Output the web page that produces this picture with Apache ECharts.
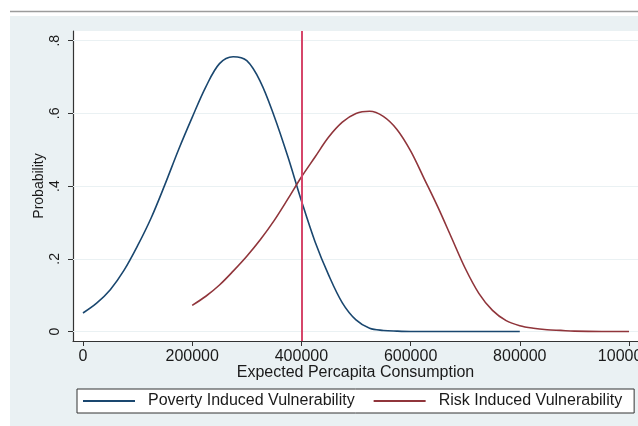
<!DOCTYPE html>
<html>
<head>
<meta charset="utf-8">
<script src="https://cdn.jsdelivr.net/npm/echarts@6/dist/echarts.min.js"></script>
<style>html,body{margin:0;padding:0;background:#fff}#c{width:638px;height:426px}</style>
</head>
<body>
<div id="c"></div>
<script>
// ---- data ----
const xTicks = [0, 200000, 400000, 600000, 800000, 1000000];
const yTicks = [0, 0.2, 0.4, 0.6, 0.8];
const yTickLabels = ['0', '.2', '.4', '.6', '.8'];
const cutoff = 400000;

const seriesNames = ['Poverty Induced Vulnerability', 'Risk Induced Vulnerability'];

const povertyX = [0, 25000, 50000, 75000, 100000, 125000, 150000, 175000, 200000, 225000, 250000, 275000, 300000, 325000, 350000, 375000, 400000, 425000, 450000, 475000, 500000, 525000, 550000, 575000, 600000, 700000, 800000];
const povertyY = [0.051, 0.078, 0.115, 0.168, 0.236, 0.313, 0.404, 0.500, 0.589, 0.673, 0.737, 0.756, 0.745, 0.687, 0.593, 0.482, 0.360, 0.247, 0.155, 0.079, 0.032, 0.009, 0.003, 0.001, 0, 0, 0];

const riskX = [200000, 225000, 250000, 275000, 300000, 325000, 350000, 375000, 400000, 425000, 450000, 475000, 500000, 525000, 550000, 575000, 600000, 625000, 650000, 675000, 700000, 725000, 750000, 775000, 800000, 825000, 850000, 875000, 900000, 950000, 1000000];
const riskY = [0.072, 0.097, 0.128, 0.166, 0.207, 0.253, 0.305, 0.364, 0.425, 0.480, 0.535, 0.576, 0.600, 0.606, 0.592, 0.556, 0.497, 0.420, 0.342, 0.258, 0.174, 0.105, 0.058, 0.030, 0.016, 0.009, 0.005, 0.003, 0.001, 0, 0];

const zip = (xs, ys) => xs.map((x, i) => [x, ys[i]]);

const FONT = '"Liberation Sans", Arial, sans-serif';
const TXT = '#1a1a1a';

const chart = echarts.init(document.getElementById('c'), null, {renderer: 'canvas'});
chart.setOption({
  animation: false,
  backgroundColor: '#ffffff',
  textStyle: {fontFamily: FONT},
  graphic: [
    {type: 'rect', z: -20, shape: {x: 10, y: 16, width: 628, height: 410}, style: {fill: '#eaf1f3'}},
    {type: 'rect', z: -19, shape: {x: 73, y: 31, width: 565, height: 310}, style: {fill: '#ffffff'}},
    {type: 'line', z: -18, shape: {x1: 10, y1: 11.5, x2: 638, y2: 11.5}, style: {stroke: '#9c9c9c', lineWidth: 1.5}}
  ],
  grid: {left: 73, right: 0, top: 31, bottom: 85, containLabel: false, outerBoundsMode: 'none'},
  xAxis: {
    type: 'value',
    min: -18300, max: 1016500,
    name: 'Expected Percapita Consumption',
    nameLocation: 'middle', nameGap: 24, nameMoveOverlap: false,
    nameTextStyle: {fontSize: 16, color: TXT, fontFamily: FONT},
    axisLine: {show: true, onZero: false, lineStyle: {color: '#333', width: 1.2}},
    axisTick: {show: true, customValues: xTicks, length: 5, lineStyle: {color: '#333'}},
    axisLabel: {customValues: xTicks, fontSize: 16, color: TXT, margin: 8, fontFamily: FONT, formatter: v => String(v), hideOverlap: false},
    splitLine: {show: false}
  },
  yAxis: {
    type: 'value',
    min: -0.0261, max: 0.8267,
    name: 'Probability',
    nameLocation: 'middle', nameGap: 27, nameRotate: 90, nameMoveOverlap: false,
    nameTextStyle: {fontSize: 14, color: TXT, fontFamily: FONT},
    axisLine: {show: true, onZero: false, lineStyle: {color: '#333', width: 1.2}},
    axisTick: {show: true, customValues: yTicks, length: 5, lineStyle: {color: '#333'}},
    axisLabel: {customValues: yTicks, rotate: 90, fontSize: 14, color: TXT, margin: 11, fontFamily: FONT,
      formatter: v => { const i = yTicks.findIndex(t => Math.abs(t - v) < 1e-9); return i >= 0 ? yTickLabels[i] : ''; }},
    splitLine: {show: false}
  },
  legend: {
    left: 77, top: 389,
    padding: [4, 12, 4, 6],
    backgroundColor: '#ffffff', borderColor: '#333', borderWidth: 1,
    itemWidth: 52, itemHeight: 2, itemGap: 19,
    icon: 'rect',
    textStyle: {fontSize: 16, color: TXT, fontFamily: FONT, padding: [0, 0, 0, 8]},
    data: seriesNames
  },
  series: [
    {
      name: seriesNames[0], type: 'line', data: zip(povertyX, povertyY),
      smooth: 0.35, showSymbol: false, symbol: 'none',
      lineStyle: {color: '#1a476f', width: 1.6}, itemStyle: {color: '#1a476f'},
      z: 3,
      markLine: {
        silent: true, symbol: 'none', label: {show: false}, animation: false, z: 1,
        lineStyle: {color: '#eaf1f3', width: 1.2, type: 'solid'},
        data: yTicks.map(t => ({yAxis: t}))
      }
    },
    {
      name: seriesNames[1], type: 'line', data: zip(riskX, riskY),
      smooth: 0.35, showSymbol: false, symbol: 'none',
      lineStyle: {color: '#90353b', width: 1.6}, itemStyle: {color: '#90353b'},
      z: 3,
      markLine: {
        silent: true, symbol: 'none', label: {show: false}, animation: false,
        lineStyle: {color: '#d6466a', width: 2, type: 'solid'},
        data: [{xAxis: cutoff}]
      }
    }
  ]
});
</script>
</body>
</html>
